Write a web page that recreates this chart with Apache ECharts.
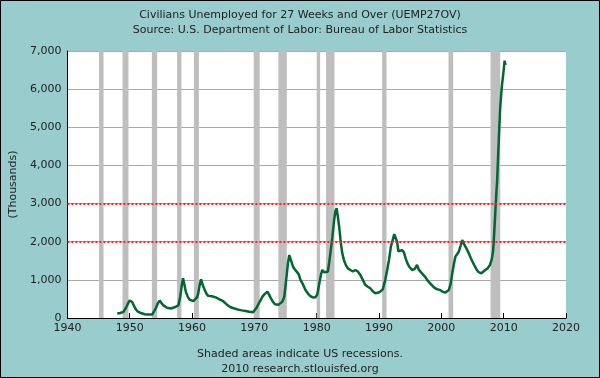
<!DOCTYPE html>
<html>
<head>
<meta charset="utf-8">
<script src="https://cdn.jsdelivr.net/npm/echarts@6/dist/echarts.min.js"></script>
<style>
html,body{margin:0;padding:0;background:#99cccc;}
#c{width:600px;height:378px;}
</style>
</head>
<body>
<div id="c"></div>
<script>
// Decimal years and values (thousands)
var years = [
1948.0,1948.25,1948.5,1948.75,1949.0,1949.25,1949.5,1949.75,1950.0,1950.15,1950.4,1950.65,1950.9,
1951.2,1951.5,1951.8,1952.1,1952.4,1952.7,1953.0,1953.3,1953.6,1953.9,1954.2,1954.5,1954.8,
1955.1,1955.4,1955.7,1956.0,1956.3,1956.6,1956.9,1957.2,1957.5,1957.8,1958.1,1958.35,1958.55,1958.75,
1959.0,1959.3,1959.6,1959.9,1960.2,1960.5,1960.8,1961.0,1961.2,1961.45,1961.7,1962.0,1962.3,1962.6,1962.9,
1963.2,1963.5,1963.8,1964.1,1964.4,1964.7,1965.0,1965.3,1965.6,1965.9,1966.2,1966.5,1966.8,
1967.1,1967.4,1967.7,1968.0,1968.3,1968.6,1968.9,1969.2,1969.5,1969.8,1970.1,1970.4,1970.7,
1971.0,1971.3,1971.6,1971.9,1972.1,1972.4,1972.7,1973.0,1973.3,1973.6,1973.9,1974.2,1974.5,1974.8,
1975.0,1975.2,1975.4,1975.6,1975.8,1976.0,1976.2,1976.5,1976.8,1977.1,1977.4,1977.8,1978.2,1978.6,
1979.0,1979.4,1979.8,1980.1,1980.4,1980.7,1980.9,1981.2,1981.5,1981.8,1982.0,1982.2,1982.5,1982.8,
1983.0,1983.2,1983.4,1983.6,1983.85,1984.1,1984.4,1984.7,1985.0,1985.4,1985.8,1986.2,1986.6,
1987.0,1987.4,1987.8,1988.2,1988.6,1989.0,1989.4,1989.8,1990.2,1990.6,1991.0,1991.3,1991.6,1991.9,
1992.2,1992.45,1992.7,1992.9,1993.1,1993.4,1993.7,1994.0,1994.3,1994.6,1994.9,1995.3,1995.7,
1996.1,1996.4,1996.7,1997.0,1997.4,1997.8,1998.2,1998.6,1999.0,1999.4,1999.8,2000.2,2000.6,2000.9,
2001.2,2001.5,2001.75,2002.0,2002.25,2002.5,2002.8,2003.1,2003.35,2003.6,2003.85,2004.1,2004.4,2004.7,
2005.0,2005.3,2005.7,2006.0,2006.4,2006.7,2007.0,2007.4,2007.8,2008.1,2008.3,2008.45,2008.6,2008.8,
2008.95,2009.15,2009.3,2009.45,2009.7,2009.9,2010.0,2010.15,2010.3
];
var values = [
120,120,130,150,160,200,300,390,460,490,420,330,250,
180,150,130,110,100,95,90,85,90,130,260,380,455,
420,330,290,270,270,250,260,280,290,330,550,850,1040,900,
690,560,480,470,440,470,540,650,850,1015,870,750,640,580,580,
570,560,540,520,490,470,440,400,350,310,280,260,250,
230,220,210,200,190,185,175,165,155,150,190,280,380,
470,560,620,660,690,600,500,420,360,340,350,380,430,560,
850,1150,1450,1650,1600,1450,1345,1270,1250,1150,1000,880,734,640,
570,540,545,620,900,1150,1260,1200,1170,1215,1450,1700,2100,2570,
2800,2880,2650,2400,2000,1700,1500,1380,1300,1258,1220,1258,1220,
1130,1000,870,820,780,700,650,660,690,750,1000,1250,1520,1870,
2050,2200,2150,2000,1750,1720,1780,1720,1550,1420,1330,1260,1280,
1390,1260,1210,1150,1080,980,910,840,780,750,734,690,664,680,
734,900,1171,1400,1608,1650,1739,1900,2045,1950,1914,1800,1695,1580,
1476,1380,1258,1200,1171,1200,1250,1300,1390,1550,1750,2130,2600,3200,
3600,4400,5000,5540,6065,6350,6500,6747,6634
];
// Recession periods (start, end)
var recessionStarts = [1945.08,1948.85,1953.55,1957.6,1960.3,1969.9,1973.85,1980.0,1981.5,1990.5,2001.15,2007.9];
var recessionEnds   = [1945.8, 1949.8, 1954.4, 1958.3,1961.1,1970.85,1975.2,1980.55,1982.85,1991.2,2001.9,2009.45];
var refLines = [2000, 3000];
var xTicks = {min:1940, max:2020, step:10};
var yTicks = {min:0, max:7000, step:1000};

var seriesData = years.map(function(y,i){return [y, values[i]];});
var areas = recessionStarts.map(function(s,i){return [{xAxis:s},{xAxis:recessionEnds[i]}];});
var font = 'DejaVu Sans, Verdana, sans-serif';

var chart = echarts.init(document.getElementById('c'), null, {renderer:'canvas'});
chart.setOption({
  backgroundColor:'#99cccc',
  animation:false,
  textStyle:{fontFamily:font},
  title:[
    {text:'Civilians Unemployed for 27 Weeks and Over (UEMP27OV)', left:'center', top:5,
     textStyle:{fontSize:11, fontWeight:'normal', color:'#222', fontFamily:font}},
    {text:'Source: U.S. Department of Labor: Bureau of Labor Statistics', left:'center', top:20,
     textStyle:{fontSize:11, fontWeight:'normal', color:'#222', fontFamily:font}},
    {text:'Shaded areas indicate US recessions.', left:'center', top:344,
     textStyle:{fontSize:11, fontWeight:'normal', color:'#222', fontFamily:font}},
    {text:'2010 research.stlouisfed.org', left:'center', top:359,
     textStyle:{fontSize:11, fontWeight:'normal', color:'#222', fontFamily:font}}
  ],
  grid:{left:66, right:34, top:51, bottom:60, show:true, backgroundColor:'#ffffff', borderWidth:0},
  xAxis:{
    type:'value', min:xTicks.min, max:xTicks.max, interval:xTicks.step,
    axisLine:{show:true, lineStyle:{color:'#000', width:1}},
    axisTick:{show:true, inside:true, length:5, lineStyle:{color:'#000'}},
    axisLabel:{color:'#222', fontSize:11, fontFamily:font, margin:5, formatter:function(v){return String(v);}},
    splitLine:{show:false}
  },
  yAxis:{
    type:'value', min:yTicks.min, max:yTicks.max, interval:yTicks.step,
    name:'(Thousands)', nameLocation:'middle', nameGap:48, nameRotate:90,
    nameTextStyle:{color:'#222', fontSize:11, fontFamily:font},
    axisLine:{show:true, lineStyle:{color:'#000', width:1}},
    axisTick:{show:false},
    axisLabel:{color:'#222', fontSize:11, fontFamily:font, margin:6,
      formatter:function(v){return v.toLocaleString('en-US');}},
    splitLine:{show:true, lineStyle:{color:'#aaaaaa', width:1}}
  },
  graphic:[{type:'rect', shape:{x:0.5,y:0.5,width:599,height:377}, style:{fill:'none', stroke:'#000', lineWidth:1}, z:100}],
  series:[
    {type:'line', data:[], silent:true,
     markArea:{silent:true, itemStyle:{color:'#bebebe'}, data:areas}},
    {type:'line', data:seriesData, showSymbol:false, symbol:'none',
     lineStyle:{color:'#006633', width:2.5}, z:3,
     markLine:{silent:true, symbol:'none', label:{show:false},
       lineStyle:{color:'#ff2020', type:[2,2], width:2},
       data:refLines.map(function(v){return {yAxis:v};})}}
  ]
});
</script>
</body>
</html>
